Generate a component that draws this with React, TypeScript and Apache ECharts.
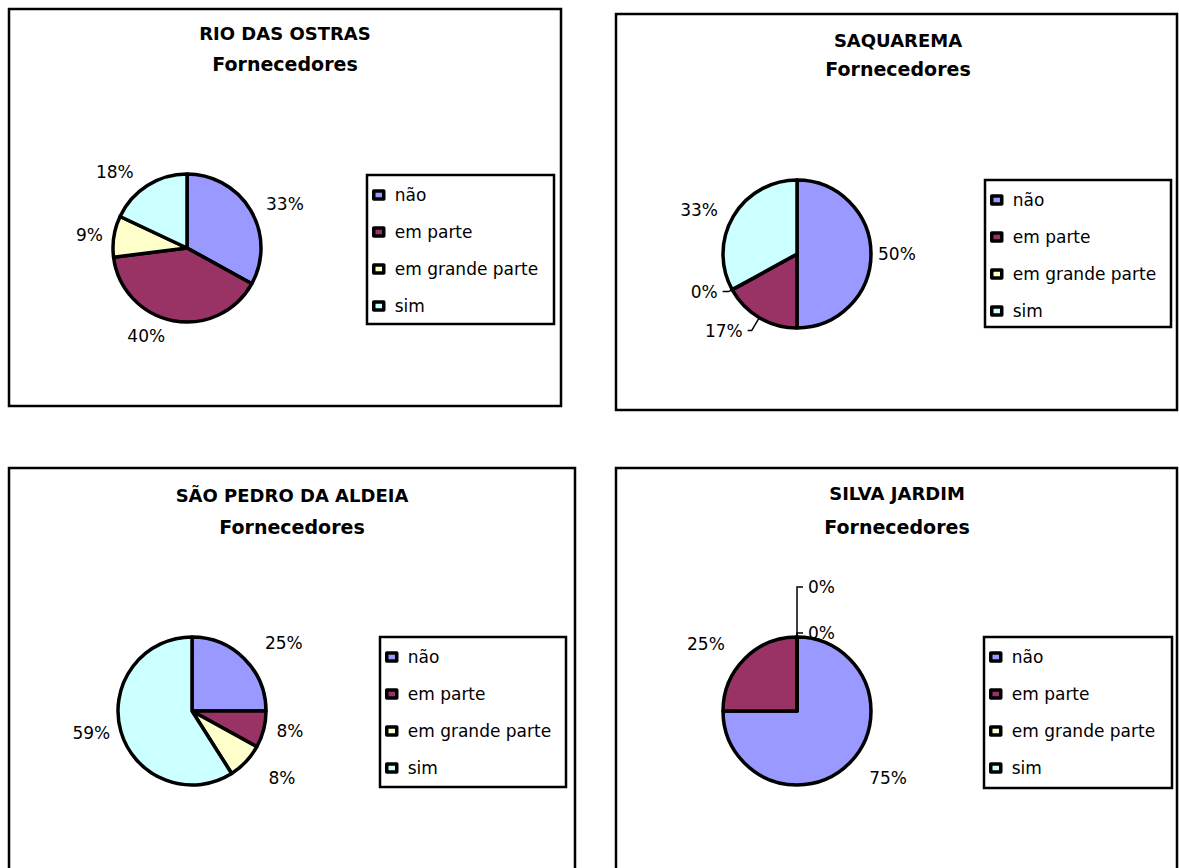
import React, { useEffect, useRef } from "react";
import * as echarts from "echarts";

const categories = ["não", "em parte", "em grande parte", "sim"];
const sliceColors = ["#9999FF", "#993366", "#FFFFCC", "#CCFFFF"];
const cityNames = ["RIO DAS OSTRAS", "SAQUAREMA", "SÃO PEDRO DA ALDEIA", "SILVA JARDIM"];
const subtitleText = "Fornecedores";

const rioDasOstras = [33, 40, 9, 18];
const saquarema = [50, 17, 0, 33];
const saoPedroDaAldeia = [25, 8, 8, 59];
const silvaJardim = [75, 25, 0, 0];
const cityValues = [rioDasOstras, saquarema, saoPedroDaAldeia, silvaJardim];

// layout only (no data)
const panelLayouts = [
  { box: [9, 9, 552, 397], titleX: 285, titleTop: 24, titleGap: 12.5, center: [187, 248], legendBox: [367, 175, 187, 149], labelLen: [12, 16, 6, 16], leader: [false, false, false, false], leaderLen2: [0, 0, 0, 0] },
  { box: [616, 14, 561, 396], titleX: 898, titleTop: 31, titleGap: 10.5, center: [797, 254], legendBox: [985, 180, 186, 147], labelLen: [2, 15, 4, 12], leader: [false, true, true, false], leaderLen2: [0, 4, 6, 0] },
  { box: [9, 468, 566, 420], titleX: 292, titleTop: 486, titleGap: 13.5, center: [192, 711], legendBox: [380, 637, 186, 150], labelLen: [22, 8, 24, 6], leader: [false, false, false, false], leaderLen2: [0, 0, 0, 0] },
  { box: [616, 468, 561, 420], titleX: 897, titleTop: 484, titleGap: 15.5, center: [797, 711], legendBox: [984, 637, 188, 151], labelLen: [21, 21, 4, 50], leader: [false, false, true, true], leaderLen2: [0, 0, 6, 6] },
];

const FONT = "DejaVu Sans";

export default function App() {
  const ref = useRef<HTMLDivElement>(null);

  useEffect(() => {
    if (!ref.current) return;
    const chart = echarts.init(ref.current, null, { renderer: "svg" });

    const titles = panelLayouts.map((p, i) => ({
      text: cityNames[i],
      subtext: subtitleText,
      left: p.titleX,
      top: p.titleTop,
      textAlign: "center",
      padding: 0,
      itemGap: p.titleGap,
      textStyle: { fontFamily: FONT, fontSize: 18, fontWeight: "bold", color: "#000" },
      subtextStyle: { fontFamily: FONT, fontSize: 19, fontWeight: "bold", color: "#000" },
    }));

    const legends = panelLayouts.map((p) => ({
      data: categories,
      orient: "vertical",
      left: p.legendBox[0] + 5,
      top: p.legendBox[1] + 11.5,
      padding: 0,
      itemGap: 20,
      itemWidth: 10,
      itemHeight: 8,
      icon: "rect",
      selectedMode: false,
      itemStyle: { borderColor: "#000", borderWidth: 3.5 },
      textStyle: { fontFamily: FONT, fontSize: 17, color: "#000", padding: [0, 0, 0, 6] },
    }));

    const series = panelLayouts.map((p, i) => ({
      type: "pie",
      name: cityNames[i],
      center: p.center,
      radius: 74,
      startAngle: 89.99,
      clockwise: true,
      avoidLabelOverlap: false,
      silent: true,
      itemStyle: { borderColor: "#000", borderWidth: 3.5 },
      label: {
        show: true,
        position: "outside",
        formatter: "{c}%",
        fontFamily: FONT,
        fontSize: 17,
        color: "#000",
        distanceToLabelLine: 5,
      },
      labelLine: { show: false, length: 10, length2: 0 },
      data: cityValues[i].map((v, k) => ({
        name: categories[k],
        value: v,
        itemStyle: { color: sliceColors[k] },
        labelLine: {
          show: p.leader[k],
          length: p.labelLen[k],
          length2: p.leaderLen2[k],
          lineStyle: { color: "#000", width: 1.5 },
        },
      })),
    }));

    const graphics: any[] = [];
    panelLayouts.forEach((p) => {
      graphics.push({
        type: "rect",
        shape: { x: p.box[0], y: p.box[1], width: p.box[2], height: p.box[3] },
        style: { fill: "none", stroke: "#000", lineWidth: 2.5 },
        z: -1,
      });
      graphics.push({
        type: "rect",
        shape: { x: p.legendBox[0], y: p.legendBox[1], width: p.legendBox[2], height: p.legendBox[3] },
        style: { fill: "none", stroke: "#000", lineWidth: 2.5 },
        z: -1,
      });
    });

    chart.setOption({
      animation: false,
      backgroundColor: "#fff",
      color: sliceColors,
      title: titles,
      legend: legends,
      series,
      graphic: graphics,
    } as any);

    return () => chart.dispose();
  }, []);

  return (
    <div
      ref={ref}
      style={{ position: "absolute", left: 0, top: 0, width: 1179, height: 868 }}
    />
  );
}
